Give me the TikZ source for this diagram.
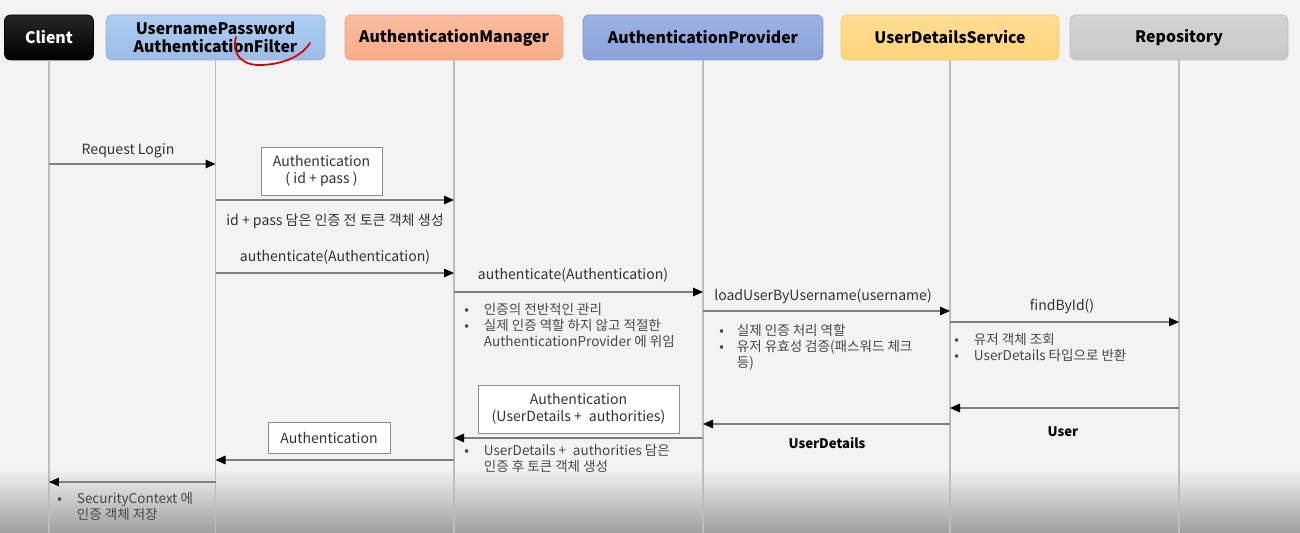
\documentclass[tikz,border=0pt]{standalone}
\usepackage{fontspec}
\setmainfont{Noto Sans CJK KR}
\usetikzlibrary{arrows.meta}
\definecolor{bgcol}{HTML}{F3F3F3}
\definecolor{shadecol}{HTML}{9E9E9E}
\definecolor{lifegray}{HTML}{BDBDBD}
\definecolor{msggray}{HTML}{7F7F7F}
\definecolor{boxgray}{HTML}{8C8C8C}
\definecolor{labelgray}{HTML}{333333}
\definecolor{notegray}{HTML}{474747}
\definecolor{filtertop}{HTML}{AECDF1}
\definecolor{filterbot}{HTML}{9DBCE6}
\definecolor{filterline}{HTML}{97B7E0}
\definecolor{mgrtop}{HTML}{FABD9F}
\definecolor{mgrbot}{HTML}{F7AC88}
\definecolor{mgrline}{HTML}{F2A37E}
\definecolor{provtop}{HTML}{9DB3E4}
\definecolor{provbot}{HTML}{8AA2DA}
\definecolor{provline}{HTML}{7E97D0}
\definecolor{udstop}{HTML}{FFDD94}
\definecolor{udsbot}{HTML}{FFD47C}
\definecolor{udsline}{HTML}{F6CA6E}
\definecolor{repotop}{HTML}{D4D4D4}
\definecolor{repobot}{HTML}{C8C8C8}
\definecolor{repoline}{HTML}{BDBDBD}
\begin{document}
\begin{tikzpicture}[
    x=0.02cm, y=-0.02cm,
    actor/.style={rectangle, rounded corners=0.12cm, minimum height=0.9cm, align=center, inner sep=1pt, font=\fontsize{9}{10.5}\selectfont\bfseries, text=black},
    lifeline/.style={draw=lifegray, line width=0.8pt},
    msg/.style={-{Triangle[length=0.2cm,width=0.17cm,color=black]}, draw=msggray, line width=0.8pt},
    msglabel/.style={font=\fontsize{8}{9.5}\selectfont, text=labelgray},
    retlabel/.style={font=\fontsize{7.5}{9}\selectfont\bfseries, text=black},
    token/.style={rectangle, draw=boxgray, fill=white, align=center, inner sep=1pt, font=\fontsize{8}{9.5}\selectfont, text=labelgray},
    note/.style={anchor=north west, inner sep=0pt, font=\fontsize{7.7}{9.1}\selectfont, text=notegray},
]
    % background
    \fill[bgcol] (0,0) rectangle (1300,533);
    \useasboundingbox (0,0) rectangle (1300,533);
    \shade[top color=bgcol, bottom color=shadecol] (0,468) rectangle (1300,533);
    \coordinate (bottom) at (0,533);

    % participants
    \node[actor, minimum width=1.78cm, top color=black!85, bottom color=black, draw=black, text=white] (client) at (49,37.5) {Client};
    \node[actor, minimum width=4.38cm, top color=filtertop, bottom color=filterbot, draw=filterline] (filter) at (215.5,37.5) {UsernamePassword\\AuthenticationFilter};
    \node[actor, minimum width=4.36cm, top color=mgrtop, bottom color=mgrbot, draw=mgrline] (manager) at (454,37.5) {AuthenticationManager};
    \node[actor, minimum width=4.8cm, top color=provtop, bottom color=provbot, draw=provline] (provider) at (703,37.5) {AuthenticationProvider};
    \node[actor, minimum width=4.36cm, top color=udstop, bottom color=udsbot, draw=udsline] (uds) at (950,37.5) {UserDetailsService};
    \node[actor, minimum width=4.36cm, top color=repotop, bottom color=repobot, draw=repoline] (repo) at (1179,37.5) {Repository};

    % lifelines
    \foreach \p in {client, filter, manager, provider, uds, repo}
        \draw[lifeline] (\p.south) -- (\p.south |- bottom);

    % red pen mark
    \draw[red!85!black, line width=1pt, line cap=round] (236,37) .. controls (231,56) and (244,66) .. (262,65) .. controls (284,64) and (302,56) .. (310,43);

    % request login
    \coordinate (m1) at (0,164);
    \draw[msg] (client |- m1) -- (filter |- m1);
    \node[msglabel] (m1lbl) at (128,151) {Request Login};

    % token before authentication
    \node[token, minimum width=2.42cm, minimum height=0.96cm] (tok1) at (321.5,171) {Authentication\\( id + pass )};
    \coordinate (m2) at (0,200);
    \draw[msg] (filter |- m2) -- (manager |- m2);
    \node[msglabel] (m2lbl) at (335,221) {id + pass 담은 인증 전 토큰 객체 생성};

    % authenticate to manager
    \node[msglabel] (m3lbl) at (335,257) {authenticate(Authentication)};
    \coordinate (m3) at (0,273);
    \draw[msg] (filter |- m3) -- (manager |- m3);

    % authenticate to provider
    \node[msglabel] (m4lbl) at (573,275) {authenticate(Authentication)};
    \coordinate (m4) at (0,292);
    \draw[msg] (manager |- m4) -- (provider |- m4);
    \node[note] (mgrnote) at (464,303) {\begin{tabular}{@{}l@{\hspace{0.3cm}}l@{}}
        •&인증의 전반적인 관리\\
        •&실제 인증 역할 하지 않고 적절한\\
        &AuthenticationProvider 에 위임
    \end{tabular}};

    % load user
    \node[msglabel] (m5lbl) at (823,296) {loadUserByUsername(username)};
    \coordinate (m5) at (0,311);
    \draw[msg] (provider |- m5) -- (uds |- m5);
    \node[note] (provnote) at (719,324) {\begin{tabular}{@{}l@{\hspace{0.26cm}}l@{}}
        •&실제 인증 처리 역할\\
        •&유저 유효성 검증(패스워드 체크\\
        &등)
    \end{tabular}};

    % find user
    \node[msglabel] (m6lbl) at (1062,306) {findById()};
    \coordinate (m6) at (0,322);
    \draw[msg] (uds |- m6) -- (repo |- m6);
    \node[note] (udsnote) at (954,333) {\begin{tabular}{@{}l@{\hspace{0.3cm}}l@{}}
        •&유저 객체 조회\\
        •&UserDetails 타입으로 반환
    \end{tabular}};

    % returns
    \coordinate (r1) at (0,408);
    \draw[msg] (repo |- r1) -- (uds |- r1);
    \node[retlabel] (r1lbl) at (1063,432) {User};
    \coordinate (r2) at (0,424);
    \draw[msg] (uds |- r2) -- (provider |- r2);
    \node[retlabel] (r2lbl) at (827,443) {UserDetails};

    % token after authentication
    \node[token, minimum width=4.02cm, minimum height=0.96cm] (tok2) at (578.5,409) {Authentication\\(UserDetails +\enspace authorities)};
    \coordinate (r3) at (0,438);
    \draw[msg] (provider |- r3) -- (manager |- r3);
    \node[note] (toknote) at (464,444) {\begin{tabular}{@{}l@{\hspace{0.3cm}}l@{}}
        •&UserDetails +\enspace authorities 담은\\
        &인증 후 토큰 객체 생성
    \end{tabular}};

    \node[token, minimum width=2.44cm, minimum height=0.62cm] (tok3) at (329,437.5) {Authentication};
    \coordinate (r4) at (0,460);
    \draw[msg] (manager |- r4) -- (filter |- r4);

    % security context
    \coordinate (r5) at (0,482);
    \draw[msg] (filter |- r5) -- (client |- r5);
    \node[note] (ctxnote) at (57,492) {\begin{tabular}{@{}l@{\hspace{0.3cm}}l@{}}
        •&SecurityContext 에\\
        &인증 객체 저장
    \end{tabular}};
\end{tikzpicture}
\end{document}
